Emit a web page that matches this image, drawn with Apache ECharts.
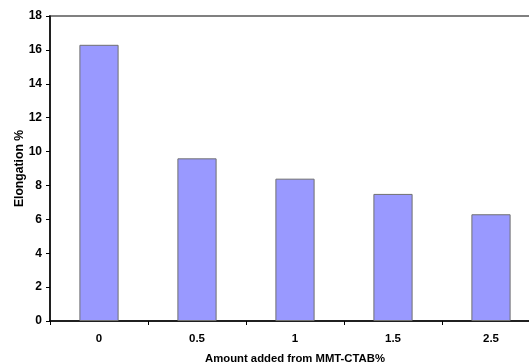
<!DOCTYPE html>
<html><head><meta charset="utf-8">
<script src="https://cdn.jsdelivr.net/npm/echarts@6/dist/echarts.min.js"></script>
<style>html,body{margin:0;padding:0;background:#fff}#c{width:529px;height:364px}</style>
</head><body><div id="c"></div>
<script>
const categories = ['0', '0.5', '1', '1.5', '2.5'];
const elongation = [16.3, 9.6, 8.4, 7.5, 6.3];
const yTicks = [0, 2, 4, 6, 8, 10, 12, 14, 16, 18];

const chart = echarts.init(document.getElementById('c'), null, {renderer: 'canvas'});
const font = 'Liberation Sans, Arial, sans-serif';
chart.setOption({
  animation: false,
  grid: {left: 50, top: 16, width: 490, height: 305, show: true, borderColor: '#808080', borderWidth: 2, backgroundColor: '#fff', outerBoundsMode: 'none', containLabel: false},
  xAxis: {
    type: 'category', data: categories,
    name: 'Amount added from MMT-CTAB%', nameLocation: 'middle', nameGap: 32,
    nameTextStyle: {fontFamily: font, fontWeight: 'bold', fontSize: 11.3, color: '#000'},
    axisLine: {lineStyle: {color: '#000', width: 1.5}},
    axisTick: {show: true, alignWithLabel: false, length: 4, lineStyle: {color: '#000'}},
    axisLabel: {fontFamily: font, fontWeight: 'bold', fontSize: 11.5, color: '#000', margin: 12}
  },
  yAxis: {
    type: 'value', min: yTicks[0], max: yTicks[yTicks.length - 1], interval: 2,
    name: 'Elongation %', nameLocation: 'middle', nameGap: 24, nameRotate: 90, nameMoveOverlap: false,
    nameTextStyle: {fontFamily: font, fontWeight: 'bold', fontSize: 12.2, color: '#000'},
    axisLine: {show: true, lineStyle: {color: '#000', width: 1.5}},
    axisTick: {show: true, length: 4, lineStyle: {color: '#000'}},
    splitLine: {show: false},
    axisLabel: {fontFamily: font, fontWeight: 'bold', fontSize: 12, color: '#000', margin: 8}
  },
  series: [{
    type: 'bar', data: elongation, barWidth: '40%',
    itemStyle: {color: '#9999FF', borderColor: '#707070', borderWidth: 1}
  }]
});
</script></body></html>
